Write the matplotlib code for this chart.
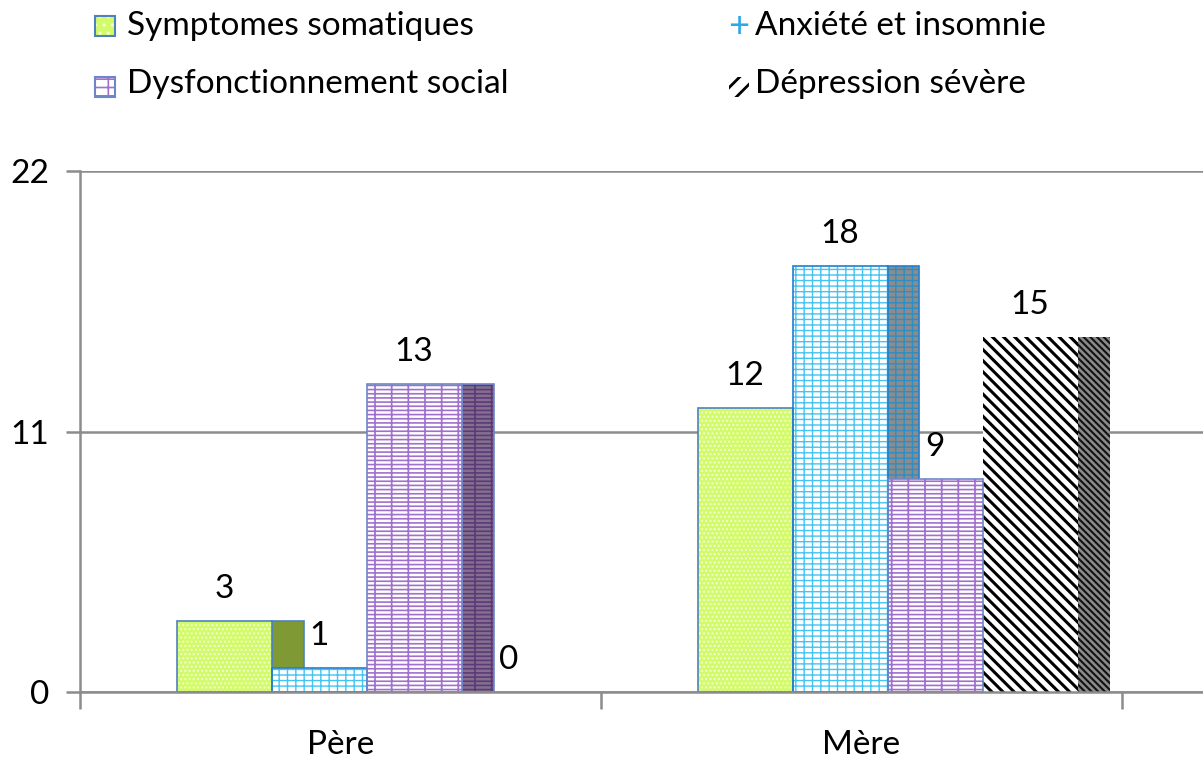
import numpy as np
import matplotlib
matplotlib.use("Agg")
import matplotlib.pyplot as plt
from matplotlib.patches import Rectangle

plt.rcParams["font.family"] = ["Lato", "DejaVu Sans"]

groups = ["Père", "Mère"]
series = ["Symptomes somatiques", "Anxiété et insomnie",
          "Dysfonctionnement social", "Dépression sévère"]
values = [
    [3, 12],   # Symptomes somatiques
    [1, 18],   # Anxiété et insomnie
    [13, 9],   # Dysfonctionnement social
    [0, 15],   # Dépression sévère
]

# front fill, hatch colour, hatch, side fill, side hatch colour, side hatch, outline, hatch lw
styles = [
    ("#d2fa6a", "#f2ffd0", "....", "#7f9a35", "#8ea83e", "", "#4f81bd", 1.0),
    ("white", "#45c4f2", "++-", "#8c8c8c", "#2c8ec4", "++-", "#1f7fd0", 1.0),
    ("white", "#a070cc", "+---", "#84708e", "#5c3a78", "+---", "#6f86c6", 1.2),
    ("white", "black", "\\\\\\", "#8a8a8a", "#111111", "\\\\\\\\\\", None, 2.2),
]

fig = plt.figure(figsize=(12.03, 7.58), dpi=100)
ax = fig.add_axes([80 / 1203, 66 / 758, 1 - 80 / 1203, 521 / 758])

x = np.arange(len(groups))
bw = 95 / 521
depth = 32 / 521
start = (177 - 341) / 521

for i, (name, vals) in enumerate(zip(series, values)):
    fc, hc, hatch, sfc, shc, shatch, oc, hlw = styles[i]
    left = x + start + i * bw
    # side face (behind next bar)
    plt.rcParams["hatch.linewidth"] = 1.5 if i == 3 else hlw
    ax.bar(left + bw, vals, width=depth, align="edge", color=sfc,
           edgecolor=shc, hatch=shatch, linewidth=0, zorder=2)
    if oc:
        ax.bar(left + bw, vals, width=depth, align="edge", fill=False,
               edgecolor=oc, linewidth=1.2, zorder=2.1)
    # front face
    plt.rcParams["hatch.linewidth"] = hlw
    ax.bar(left, vals, width=bw, align="edge", color=fc, edgecolor=hc,
           hatch=hatch, linewidth=0, zorder=3)
    if oc:
        ax.bar(left, vals, width=bw, align="edge", fill=False,
               edgecolor=oc, linewidth=1.2, zorder=3.1)
    for xl, v in zip(left, vals):
        ax.annotate(str(v), (xl + bw / 2, v), xytext=(0, 23),
                    textcoords="offset points", ha="center", va="center",
                    fontsize=24, zorder=5)

ax.set_xlim(-0.5, -0.5 + 1123 / 521)
ax.set_ylim(0, 22)
ax.set_yticks([0, 11, 22])
ax.yaxis.grid(True, color="#8c8c8c", linewidth=1.8)
ax.set_axisbelow(True)
for s in ["top", "right"]:
    ax.spines[s].set_visible(False)
for s in ["left", "bottom"]:
    ax.spines[s].set_color("#8c8c8c")
    ax.spines[s].set_linewidth(1.8)
    ax.spines[s].set_zorder(4)
ax.tick_params(axis="y", length=10, width=1.8, color="#8c8c8c", labelsize=24, pad=12)
ax.set_xticks([-0.5, 0.5, 1.5])
ax.set_xticklabels([])
ax.tick_params(axis="x", length=12, width=1.8, color="#8c8c8c")
ax.set_xticks(x, minor=True)
ax.set_xticklabels(groups, minor=True)
ax.tick_params(axis="x", which="minor", length=0, labelsize=24, pad=27)

# legend, drawn manually in figure pixels
legend_marker = [(95, 16), (729, 16), (95, 77), (729, 77)]
legend_text = [(127, 26), (755, 26), (127, 84), (755, 84)]
legend_hatch = ["..", "", "+-", "//"]
for i, name in enumerate(series):
    fc, hc, hatch, sfc, shc, shatch, oc, hlw = styles[i]
    plt.rcParams["hatch.linewidth"] = 2.0 if i == 3 else 1.2
    mx, my = legend_marker[i]
    w, h = 20 / 1203, 20 / 758
    fx, fy = mx / 1203, 1 - my / 758 - h
    if i == 1:
        fig.text(fx + w / 2, fy + h / 2, "+", color="#2aa8e8", ha="center",
                 va="center", fontsize=26)
    else:
        fig.add_artist(Rectangle((fx, fy), w, h, transform=fig.transFigure,
                                 facecolor=fc, edgecolor=hc,
                                 hatch=legend_hatch[i], linewidth=0))
        if oc:
            fig.add_artist(Rectangle((fx, fy), w, h, transform=fig.transFigure,
                                     fill=False, edgecolor=oc, linewidth=1.5))
    tx, ty = legend_text[i]
    fig.text(tx / 1203, 1 - ty / 758, name, ha="left", va="center",
             fontsize=24)

fig.savefig("out.png", dpi=100)
